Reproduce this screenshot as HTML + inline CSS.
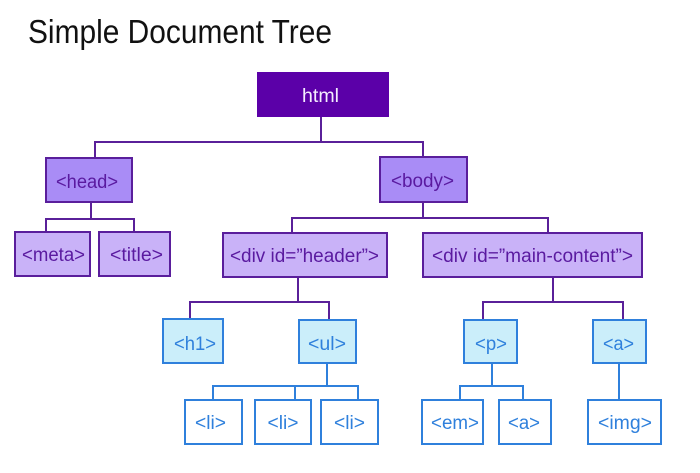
<!DOCTYPE html>
<html>
<head>
<meta charset="utf-8">
<style>
  html, body { margin: 0; padding: 0; background: #ffffff; }
  svg { display: block; }
  text { font-family: "Liberation Sans", "DejaVu Sans", sans-serif; }
</style>
</head>
<body>
<svg width="700" height="473" viewBox="0 0 700 473" xmlns="http://www.w3.org/2000/svg">
  <rect width="700" height="473" fill="#ffffff"/>

  <!-- Title -->
  <text x="28" y="43" font-size="33" fill="#111111" textLength="304" lengthAdjust="spacingAndGlyphs">Simple Document Tree</text>

  <!-- Purple connectors -->
  <g stroke="#5a2099" stroke-width="2" fill="none">
    <line x1="321" y1="117" x2="321" y2="142"/>
    <line x1="94" y1="142" x2="424" y2="142"/>
    <line x1="95" y1="142" x2="95" y2="158"/>
    <line x1="423" y1="142" x2="423" y2="157"/>
    <line x1="91" y1="202" x2="91" y2="219"/>
    <line x1="45" y1="219" x2="135" y2="219"/>
    <line x1="46" y1="219" x2="46" y2="232"/>
    <line x1="134" y1="219" x2="134" y2="232"/>
    <line x1="423" y1="202" x2="423" y2="218"/>
    <line x1="291" y1="218" x2="549" y2="218"/>
    <line x1="292" y1="218" x2="292" y2="233"/>
    <line x1="548" y1="218" x2="548" y2="233"/>
    <line x1="298" y1="277" x2="298" y2="302"/>
    <line x1="189" y1="302" x2="330" y2="302"/>
    <line x1="190" y1="302" x2="190" y2="319"/>
    <line x1="329" y1="302" x2="329" y2="320"/>
    <line x1="553" y1="277" x2="553" y2="302"/>
    <line x1="482" y1="302" x2="624" y2="302"/>
    <line x1="483" y1="302" x2="483" y2="320"/>
    <line x1="623" y1="302" x2="623" y2="320"/>
  </g>

  <!-- Blue connectors -->
  <g stroke="#2f80dc" stroke-width="2" fill="none">
    <line x1="327" y1="363" x2="327" y2="386"/>
    <line x1="212" y1="386" x2="359" y2="386"/>
    <line x1="213" y1="386" x2="213" y2="400"/>
    <line x1="295" y1="386" x2="295" y2="400"/>
    <line x1="358" y1="386" x2="358" y2="400"/>
    <line x1="492" y1="363" x2="492" y2="386"/>
    <line x1="459" y1="386" x2="524" y2="386"/>
    <line x1="460" y1="386" x2="460" y2="400"/>
    <line x1="523" y1="386" x2="523" y2="400"/>
    <line x1="619" y1="363" x2="619" y2="400"/>
  </g>

  <!-- html box -->
  <rect x="257" y="72" width="132" height="45" fill="#5b00a8"/>
  <text x="320.5" y="102" font-size="19" fill="#f4eeff" text-anchor="middle" textLength="37" lengthAdjust="spacingAndGlyphs">html</text>

  <!-- head / body -->
  <g fill="#a98cf6" stroke="#5a1e9c" stroke-width="2">
    <rect x="46" y="158" width="86" height="44"/>
    <rect x="380" y="157" width="87" height="45"/>
  </g>
  <g font-size="19" fill="#5a1aa0" text-anchor="middle">
    <text x="87" y="188" textLength="62" lengthAdjust="spacingAndGlyphs">&lt;head&gt;</text>
    <text x="422.5" y="187" textLength="63" lengthAdjust="spacingAndGlyphs">&lt;body&gt;</text>
  </g>

  <!-- meta / title / divs -->
  <g fill="#c9b2f8" stroke="#5a1e9c" stroke-width="2">
    <rect x="15" y="232" width="75" height="44"/>
    <rect x="99" y="232" width="71" height="44"/>
    <rect x="223" y="233" width="164" height="44"/>
    <rect x="423" y="233" width="219" height="44"/>
  </g>
  <g font-size="19" fill="#5a1aa0" text-anchor="middle">
    <text x="53.5" y="261" textLength="63" lengthAdjust="spacingAndGlyphs">&lt;meta&gt;</text>
    <text x="136.5" y="261" textLength="53" lengthAdjust="spacingAndGlyphs">&lt;title&gt;</text>
    <text x="304.5" y="262" textLength="149" lengthAdjust="spacingAndGlyphs">&lt;div id=”header”&gt;</text>
    <text x="532.5" y="262" textLength="201" lengthAdjust="spacingAndGlyphs">&lt;div id=”main-content”&gt;</text>
  </g>

  <!-- light blue boxes -->
  <g fill="#cbeefa" stroke="#2f80dc" stroke-width="2">
    <rect x="163" y="319" width="60" height="44"/>
    <rect x="299" y="320" width="57" height="43"/>
    <rect x="464" y="320" width="53" height="43"/>
    <rect x="593" y="320" width="53" height="43"/>
  </g>
  <!-- white boxes -->
  <g fill="#ffffff" stroke="#2f80dc" stroke-width="2">
    <rect x="185" y="400" width="57" height="44"/>
    <rect x="255" y="400" width="56" height="44"/>
    <rect x="321" y="400" width="57" height="44"/>
    <rect x="422" y="400" width="61" height="44"/>
    <rect x="499" y="400" width="52" height="44"/>
    <rect x="588" y="400" width="73" height="44"/>
  </g>
  <g font-size="19" fill="#2f80dc" text-anchor="middle">
    <text x="195" y="350" textLength="42" lengthAdjust="spacingAndGlyphs">&lt;h1&gt;</text>
    <text x="327" y="350" textLength="38" lengthAdjust="spacingAndGlyphs">&lt;ul&gt;</text>
    <text x="491" y="350" textLength="32" lengthAdjust="spacingAndGlyphs">&lt;p&gt;</text>
    <text x="618.5" y="350" textLength="31" lengthAdjust="spacingAndGlyphs">&lt;a&gt;</text>
    <text x="210.5" y="429" textLength="31" lengthAdjust="spacingAndGlyphs">&lt;li&gt;</text>
    <text x="283" y="429" textLength="31" lengthAdjust="spacingAndGlyphs">&lt;li&gt;</text>
    <text x="349.5" y="429" textLength="31" lengthAdjust="spacingAndGlyphs">&lt;li&gt;</text>
    <text x="455" y="429" textLength="48" lengthAdjust="spacingAndGlyphs">&lt;em&gt;</text>
    <text x="524" y="429" textLength="32" lengthAdjust="spacingAndGlyphs">&lt;a&gt;</text>
    <text x="625" y="429" textLength="54" lengthAdjust="spacingAndGlyphs">&lt;img&gt;</text>
  </g>
</svg>
</body>
</html>
